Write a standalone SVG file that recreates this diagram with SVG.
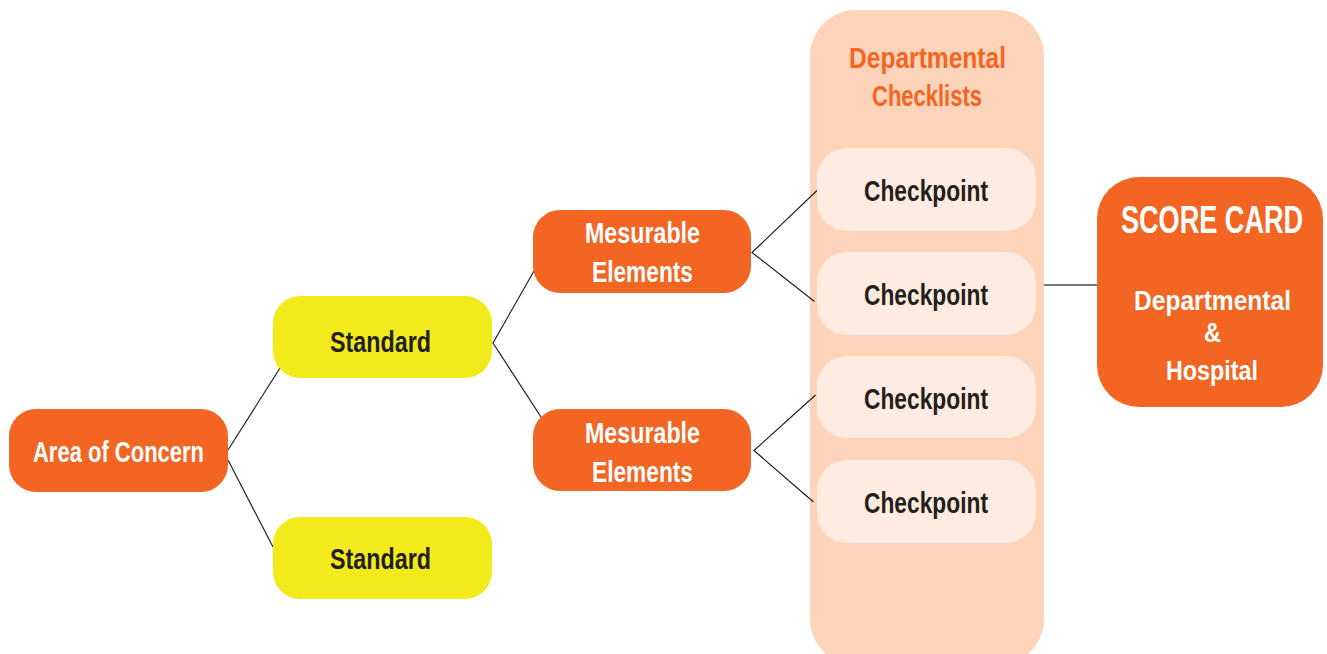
<svg xmlns="http://www.w3.org/2000/svg" width="1327" height="654" viewBox="0 0 1327 654">
<defs>
<style>
.t{font-family:"Liberation Sans",Arial,sans-serif;font-weight:bold;}
.w{fill:#ffffff;}
.d{fill:#231f20;}
.o{fill:#f26522;}
.org{fill:#f26522;}
.yel{fill:#f2ea1a;}
.cp{fill:#ffebdf;}
.col{fill:#fdd4b9;}
.ln{stroke:#231f20;stroke-width:1.2;fill:none;}
</style>
</defs>
<rect width="1327" height="654" fill="#ffffff"/>
<g id="column">
<rect class="col" x="810" y="10" width="234" height="655" rx="46" ry="46"/>
<text class="t o" font-size="29" x="849" y="68" textLength="157" lengthAdjust="spacingAndGlyphs">Departmental</text>
<text class="t o" font-size="29" x="872" y="106" textLength="110" lengthAdjust="spacingAndGlyphs">Checklists</text>
</g>
<g id="connectors">
<polyline class="ln" points="280,368 228,450"/>
<polyline class="ln" points="228,460 273,547"/>
<polyline class="ln" points="534,271 493,343 541,417"/>
<polyline class="ln" points="817,190.5 752,252.5 814.5,301.5"/>
<polyline class="ln" points="815.5,395 754,450.5 813.5,502"/>
<line x1="1044" y1="285" x2="1097" y2="285" stroke="#4d4d4d" stroke-width="1.6"/>
</g>
<g id="area">
<rect class="org" x="9" y="409" width="219" height="83" rx="27"/>
<text class="t w" font-size="29" x="33" y="462" textLength="171" lengthAdjust="spacingAndGlyphs">Area of Concern</text>
</g>
<g id="standard1">
<rect class="yel" x="273" y="296" width="219" height="82" rx="27"/>
<text class="t d" font-size="29" x="330" y="352" textLength="101" lengthAdjust="spacingAndGlyphs">Standard</text>
</g>
<g id="standard2">
<rect class="yel" x="273" y="517" width="219" height="82" rx="27"/>
<text class="t d" font-size="29" x="330" y="569" textLength="101" lengthAdjust="spacingAndGlyphs">Standard</text>
</g>
<g id="measurable1">
<rect class="org" x="533" y="210" width="218" height="83" rx="27"/>
<text class="t w" font-size="29" x="585" y="243" textLength="115" lengthAdjust="spacingAndGlyphs">Mesurable</text>
<text class="t w" font-size="29" x="592" y="282" textLength="101" lengthAdjust="spacingAndGlyphs">Elements</text>
</g>
<g id="measurable2">
<rect class="org" x="533" y="409" width="218" height="82" rx="27"/>
<text class="t w" font-size="29" x="585" y="443" textLength="115" lengthAdjust="spacingAndGlyphs">Mesurable</text>
<text class="t w" font-size="29" x="592" y="482" textLength="101" lengthAdjust="spacingAndGlyphs">Elements</text>
</g>
<g id="checkpoint1">
<rect class="cp" x="817" y="148" width="219" height="83" rx="30"/>
<text class="t d" font-size="29" x="864" y="201" textLength="124" lengthAdjust="spacingAndGlyphs">Checkpoint</text>
</g>
<g id="checkpoint2">
<rect class="cp" x="817" y="252" width="219" height="83" rx="30"/>
<text class="t d" font-size="29" x="864" y="305" textLength="124" lengthAdjust="spacingAndGlyphs">Checkpoint</text>
</g>
<g id="checkpoint3">
<rect class="cp" x="817" y="356" width="219" height="82" rx="30"/>
<text class="t d" font-size="29" x="864" y="409" textLength="124" lengthAdjust="spacingAndGlyphs">Checkpoint</text>
</g>
<g id="checkpoint4">
<rect class="cp" x="817" y="460" width="219" height="83" rx="30"/>
<text class="t d" font-size="29" x="864" y="513" textLength="124" lengthAdjust="spacingAndGlyphs">Checkpoint</text>
</g>
<g id="scorecard">
<rect class="org" x="1097" y="177" width="226" height="230" rx="42"/>
<text class="t w" font-size="39" text-anchor="middle" transform="translate(1212,233) scale(0.695,1)">SCORE CARD</text>
<text class="t w" font-size="28" x="1134" y="310" textLength="157" lengthAdjust="spacingAndGlyphs">Departmental</text>
<text class="t w" font-size="28" x="1204" y="342" textLength="17" lengthAdjust="spacingAndGlyphs">&amp;</text>
<text class="t w" font-size="28" x="1166" y="380" textLength="92" lengthAdjust="spacingAndGlyphs">Hospital</text>
</g>
</svg>
